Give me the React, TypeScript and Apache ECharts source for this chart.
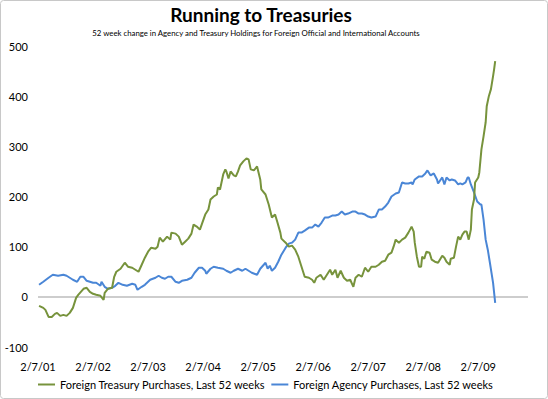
import React, { useEffect, useRef } from "react";
import * as echarts from "echarts";

const titleText = "Running to Treasuries";
const subtitleText =
  "52 week change in Agency and Treasury Holdings for Foreign Official and International Accounts";

const xTickLabels = ["2/7/01", "2/7/02", "2/7/03", "2/7/04", "2/7/05", "2/7/06", "2/7/07", "2/7/08", "2/7/09"];
const weeksPerTick = 52;

const treasuryName = "Foreign Treasury Purchases, Last 52 weeks";
const agencyName = "Foreign Agency Purchases, Last 52 weeks";

// weeks since 2/7/01
const treasuryWeeks = [
  1, 5, 7, 10, 13, 16, 18, 21, 24, 27, 30, 33, 36, 38, 43, 46, 49, 52, 55, 59, 62, 63, 66, 70, 72, 74, 78, 82, 85, 89,
  92, 95, 98, 101, 104, 107, 111, 113, 115, 118, 122, 125, 126, 130, 133, 136, 139, 142, 145, 147, 150, 153, 155, 158,
  161, 163, 166, 169, 170, 172, 175, 177, 178, 180, 182, 185, 187, 189, 191, 194, 197, 199, 201, 204, 207, 210, 211,
  215, 218, 221, 224, 226, 229, 230, 234, 237, 240, 243, 246, 249, 252, 256, 259, 261, 263, 267, 270, 273, 276, 278,
  281, 283, 286, 289, 292, 295, 298, 300, 303, 306, 309, 312, 315, 319, 322, 325, 328, 331, 334, 336, 338, 341, 344,
  347, 350, 353, 355, 356, 358, 360, 362, 363, 365, 367, 370, 372, 375, 378, 382, 384, 386, 389, 390, 393, 395, 397,
  399, 401, 403, 405, 407, 409, 410, 412, 413, 416, 417, 419, 421, 423, 424, 426, 428, 430, 431, 432,
];
const treasuryValues = [
  -18, -22, -26, -40, -40, -34, -32, -38, -36, -38, -32, -22, -2, 4, 16, 18, 10, 6, 4, 2, -6, 8, 16, 18, 40, 50, 56,
  68, 60, 58, 54, 50, 64, 78, 90, 98, 96, 100, 118, 110, 120, 114, 128, 126, 120, 104, 110, 116, 126, 144, 140, 134,
  146, 164, 174, 194, 200, 204, 218, 214, 244, 254, 250, 236, 250, 242, 240, 250, 262, 270, 276, 274, 254, 252, 260,
  234, 214, 204, 184, 158, 164, 150, 128, 116, 108, 100, 102, 94, 80, 60, 40, 38, 34, 28, 38, 44, 34, 44, 54, 44, 54,
  38, 52, 38, 32, 34, 20, 38, 44, 40, 58, 50, 60, 60, 64, 70, 72, 84, 88, 100, 114, 108, 114, 118, 128, 140, 130, 108,
  80, 60, 60, 80, 76, 90, 88, 74, 70, 68, 82, 78, 70, 64, 76, 78, 100, 120, 114, 124, 130, 130, 114, 134, 174, 194, 228,
  238, 248, 294, 320, 348, 380, 400, 414, 440, 454, 470,
];

const agencyWeeks = [
  1, 5, 10, 14, 19, 24, 27, 30, 33, 37, 40, 43, 46, 49, 52, 55, 59, 60, 63, 66, 70, 73, 76, 80, 84, 89, 92, 94, 98,
  101, 106, 111, 114, 117, 120, 123, 126, 130, 133, 136, 141, 145, 148, 152, 155, 158, 159, 163, 166, 170, 175, 178,
  182, 185, 189, 193, 196, 199, 202, 207, 210, 215, 217, 219, 221, 224, 227, 230, 234, 237, 240, 243, 246, 249, 252,
  256, 259, 262, 265, 268, 271, 274, 278, 281, 284, 287, 290, 293, 297, 300, 303, 306, 309, 312, 315, 319, 322, 325,
  328, 331, 334, 338, 341, 344, 347, 350, 353, 354, 356, 360, 363, 366, 368, 371, 374, 377, 378, 382, 384, 386, 389,
  391, 394, 397, 399, 401, 404, 406, 407, 409, 412, 415, 418, 419, 421, 423, 425, 427, 430, 432,
];
const agencyValues = [
  24, 30, 38, 44, 42, 44, 42, 38, 34, 30, 40, 40, 32, 30, 28, 28, 22, 30, 20, 16, 18, 22, 28, 24, 22, 26, 24, 14, 20,
  24, 34, 38, 42, 38, 36, 40, 40, 30, 28, 32, 34, 38, 48, 58, 58, 52, 46, 56, 60, 58, 56, 52, 48, 52, 56, 52, 56, 52,
  48, 44, 56, 68, 56, 62, 52, 58, 70, 84, 98, 106, 108, 114, 128, 128, 132, 138, 138, 144, 140, 148, 158, 158, 162,
  162, 164, 170, 164, 166, 170, 170, 166, 166, 164, 160, 158, 160, 174, 174, 180, 188, 200, 206, 208, 228, 226, 226,
  228, 224, 234, 240, 240, 246, 252, 242, 246, 234, 226, 238, 224, 238, 232, 234, 232, 224, 226, 224, 228, 238, 238,
  224, 208, 190, 184, 184, 154, 114, 94, 68, 28, -12,
];

const FONT = "Lato, 'DejaVu Sans', sans-serif";

export default function App() {
  const ref = useRef<HTMLDivElement>(null);

  useEffect(() => {
    if (!ref.current) return;
    const chart = echarts.init(ref.current, null, { renderer: "svg" });
    const treasuryData = treasuryWeeks.map((w, i) => [w, treasuryValues[i]]);
    const agencyData = agencyWeeks.map((w, i) => [w, agencyValues[i]]);

    chart.setOption({
      animation: false,
      backgroundColor: "#ffffff",
      textStyle: { fontFamily: FONT },
      title: [
        {
          text: titleText,
          left: 261,
          top: 5,
          textAlign: "center",
          padding: 0,
          textStyle: { fontFamily: FONT, fontSize: 19, fontWeight: "bold", color: "#000" },
        },
        {
          text: subtitleText,
          left: 256,
          top: 29,
          textAlign: "center",
          padding: 0,
          textStyle: { fontFamily: FONT, fontSize: 7.8, fontWeight: "normal", color: "#000" },
        },
      ],
      legend: {
        left: 38,
        top: 379,
        padding: 0,
        icon: "rect",
        itemWidth: 17,
        itemHeight: 2,
        itemGap: 6,
        textStyle: { fontFamily: FONT, fontSize: 11, color: "#000" },
        data: [treasuryName, agencyName],
      },
      grid: { left: 38, right: 20, top: 46, bottom: 52, containLabel: false },
      xAxis: {
        type: "value",
        min: 0,
        max: 463,
        interval: weeksPerTick,
        axisLine: { show: false },
        axisTick: { show: false },
        splitLine: { show: false },
        axisLabel: {
          margin: 14,
          fontFamily: FONT,
          fontSize: 11,
          color: "#000",
          showMaxLabel: false,
          formatter: (v: number) => {
            if (v % weeksPerTick !== 0) return "";
            return xTickLabels[v / weeksPerTick] ?? "";
          },
        },
      },
      yAxis: {
        type: "value",
        min: -100,
        max: 500,
        interval: 100,
        axisLine: { show: false },
        axisTick: { show: false },
        splitLine: { show: false },
        axisLabel: { margin: 10, fontFamily: FONT, fontSize: 11, color: "#000" },
      },
      series: [
        {
          name: treasuryName,
          type: "line",
          data: treasuryData,
          symbol: "none",
          lineStyle: { color: "#77933C", width: 2 },
          itemStyle: { color: "#77933C" },
          z: 3,
          markLine: {
            silent: true,
            symbol: "none",
            label: { show: false },
            lineStyle: { color: "#BDBDBD", width: 1.5, type: "solid" },
            data: [{ yAxis: 0 }],
            z: 1,
          },
        },
        {
          name: agencyName,
          type: "line",
          data: agencyData,
          symbol: "none",
          lineStyle: { color: "#4A86D6", width: 2 },
          itemStyle: { color: "#4A86D6" },
          z: 2,
        },
      ],
      graphic: [
        {
          type: "rect",
          shape: { x: 0.5, y: 0.5, width: 547, height: 398, r: 3 },
          style: { fill: "none", stroke: "#C8C8C8", lineWidth: 1 },
          silent: true,
        },
      ],
    });

    return () => chart.dispose();
  }, []);

  return (
    <div style={{ position: "fixed", left: 0, top: 0, width: 548, height: 399 }}>
      <div ref={ref} style={{ width: 548, height: 399 }} />
    </div>
  );
}
